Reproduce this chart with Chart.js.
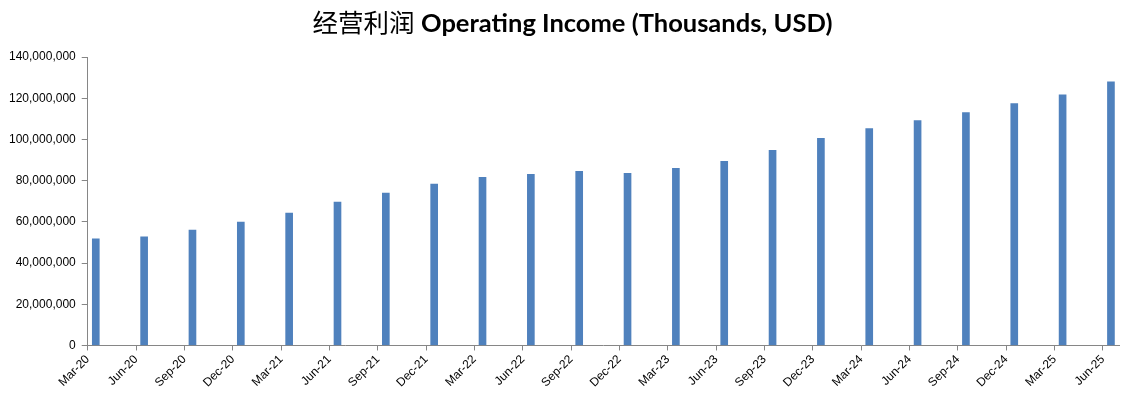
<!DOCTYPE html>
<html>
<head>
<meta charset="utf-8">
<script src="https://cdn.jsdelivr.net/npm/chart.js@4"></script>
<style>
  html, body { margin: 0; padding: 0; background: #fff; }
  #wrap { position: relative; width: 1131px; height: 397px; }
  #title { position: absolute; left: 7px; top: 1px; width: 1131px; text-align: center; font-size: 25.5px; line-height: 40px; color: #000; white-space: nowrap; }
  #title .zh { font-family: "Noto Sans CJK SC", sans-serif; font-weight: 400; }
  #title .en { font-family: Lato, "Liberation Sans", sans-serif; font-weight: 700; }
  canvas { position: absolute; left: 0; top: 0; }
</style>
</head>
<body>
<div id="wrap">
  <canvas id="c" width="1131" height="397"></canvas>
  <div id="title"><span class="zh">经营利润</span> <span class="en">Operating Income (Thousands, USD)</span></div>
</div>
<script>
const categories = ['Mar-20','Jun-20','Sep-20','Dec-20','Mar-21','Jun-21','Sep-21','Dec-21','Mar-22','Jun-22','Sep-22','Dec-22','Mar-23','Jun-23','Sep-23','Dec-23','Mar-24','Jun-24','Sep-24','Dec-24','Mar-25','Jun-25'];
const operatingIncome = [51700000, 52700000, 56000000, 59900000, 64300000, 69600000, 73900000, 78300000, 81600000, 83100000, 84500000, 83600000, 86000000, 89400000, 94700000, 100500000, 105300000, 109200000, 113000000, 117400000, 121700000, 128000000];
const yTicks = [0, 20000000, 40000000, 60000000, 80000000, 100000000, 120000000, 140000000];
const monthsPerCategory = 3;
const totalMonths = categories.length * monthsPerCategory - 2;

const points = categories.map((c, i) => ({ x: i * monthsPerCategory + 0.5, y: operatingIncome[i] }));

const axisColor = '#868686';
const tickFont = { family: '"Liberation Sans", Arial, sans-serif', size: 12 };

new Chart(document.getElementById('c'), {
  type: 'bar',
  data: {
    datasets: [{
      data: points,
      backgroundColor: '#4F81BD',
      borderWidth: 0,
      barThickness: 7
    }]
  },
  options: {
    responsive: false,
    animation: false,
    layout: { padding: { top: 57, right: 12, left: 3, bottom: 5 } },
    plugins: { legend: { display: false }, tooltip: { enabled: false }, title: { display: false } },
    scales: {
      x: {
        type: 'linear',
        min: 0,
        max: totalMonths,
        offset: false,
        grid: { offset: false, drawOnChartArea: false, drawTicks: true, tickLength: 5, color: axisColor },
        border: { color: axisColor, width: 1 },
        afterBuildTicks: (scale) => { scale.ticks = categories.map((c, i) => ({ value: i * monthsPerCategory })); },
        ticks: {
          autoSkip: false,
          maxRotation: 45,
          minRotation: 45,
          padding: 2,
          color: '#000',
          font: tickFont,
          callback: (v) => categories[Math.round(v / monthsPerCategory)]
        }
      },
      y: {
        min: 0,
        max: 140000000,
        grid: { drawOnChartArea: false, drawTicks: true, tickLength: 6, color: axisColor },
        border: { color: axisColor, width: 1 },
        afterBuildTicks: (scale) => { scale.ticks = yTicks.map(v => ({ value: v })); },
        ticks: {
          padding: 6,
          color: '#000',
          font: tickFont,
          callback: (v) => v.toLocaleString('en-US')
        }
      }
    }
  }
});
</script>
</body>
</html>
